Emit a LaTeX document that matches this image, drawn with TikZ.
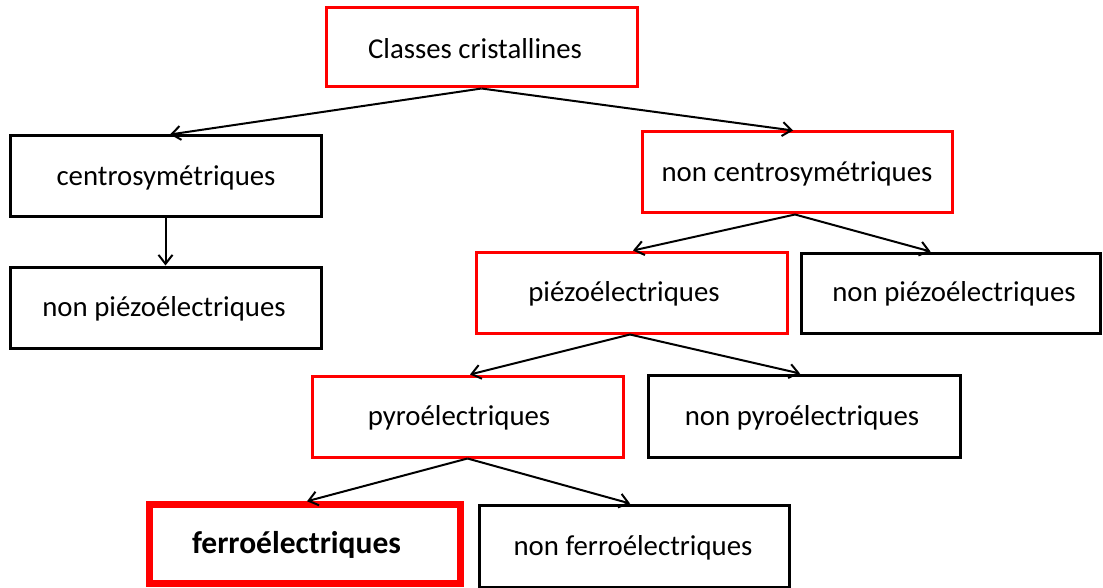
\documentclass[tikz,border=0pt]{standalone}
\usepackage{fontspec}
\setmainfont{Carlito}
\usetikzlibrary{arrows.meta}
\tikzset{
  box/.style={draw=black, line width=3pt, rectangle, inner sep=0pt, font=\fontsize{28.8}{34}\selectfont},
  redbox/.style={box, draw=red},
  thickred/.style={box, draw=red, line width=6.5pt},
  lbl/.style={inner sep=0pt, font=\fontsize{28.8}{34}\selectfont},
  arr/.style={line width=2pt, -{Straight Barb[length=9pt,width=14pt,line width=2pt]}}
}
\begin{document}
\begin{tikzpicture}[x=1pt,y=-1pt]
\useasboundingbox (0,0) rectangle (1103,588);
\node[redbox, minimum width=311pt, minimum height=79pt] (A) at (481.5,47.5) {};
\node[lbl] (At) at (475,49) {Classes cristallines};
\node[box, minimum width=311pt, minimum height=81pt] (B) at (165.5,176.5) {};
\node[lbl] (Bt) at (166,178) {centrosymétriques};
\node[redbox, minimum width=310pt, minimum height=81pt] (C) at (797,172.5) {};
\node[lbl] (Ct) at (797,174) {non centrosymétriques};
\node[box, minimum width=311pt, minimum height=81pt] (D) at (165.5,307.5) {};
\node[lbl] (Dt) at (164,309) {non piézoélectriques};
\node[redbox, minimum width=311pt, minimum height=81pt] (E) at (631.5,292.5) {};
\node[lbl] (Et) at (624,294) {piézoélectriques};
\node[box, minimum width=299pt, minimum height=80pt] (F) at (950.5,293) {};
\node[lbl] (Ft) at (954,294) {non piézoélectriques};
\node[redbox, minimum width=311pt, minimum height=81pt] (G) at (467.5,416.5) {};
\node[lbl] (Gt) at (459,418) {pyroélectriques};
\node[box, minimum width=312pt, minimum height=82pt] (H) at (804,416) {};
\node[lbl] (Ht) at (802,418) {non pyroélectriques};
\node[thickred, minimum width=311pt, minimum height=79pt] (I) at (305,544) {};
\node[lbl, font=\fontsize{31.5}{36}\selectfont\bfseries] (It) at (296.5,545) {ferroélectriques};
\node[box, minimum width=310pt, minimum height=82pt] (J) at (634,546) {};
\node[lbl] (Jt) at (633,548) {non ferroélectriques};
\draw[arr] (A.south) -- ([xshift=4.5pt]B.north);
\draw[arr] (A.south) -- ([xshift=-4pt]C.north);
\draw[arr] (B.south) -- (D.north);
\draw[arr] ([xshift=-2pt]C.south) -- ([xshift=1.5pt]E.north);
\draw[arr] ([xshift=-2pt]C.south) -- ([xshift=-20pt]F.north);
\draw[arr] ([xshift=-1.5pt]E.south) -- ([xshift=2.5pt]G.north);
\draw[arr] ([xshift=-1.5pt]E.south) -- ([xshift=-4pt]H.north);
\draw[arr] (G.south) -- ([xshift=2pt]I.north);
\draw[arr] (G.south) -- ([xshift=-4pt]J.north);
\end{tikzpicture}
\end{document}
